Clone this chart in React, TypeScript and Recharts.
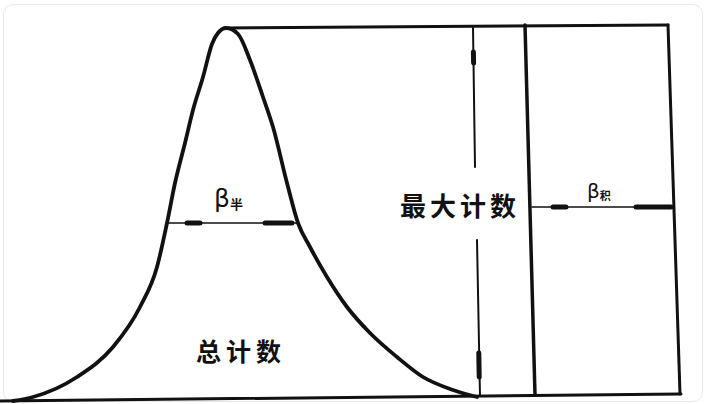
import { ComposedChart, Line, XAxis, YAxis, ReferenceDot } from 'recharts';

// diffraction peak profile (x = position, y = counts)
const PEAK_X = [13, 33, 77, 113, 140, 157, 167, 175, 185, 193, 203, 212, 218, 226, 238, 250, 263, 273, 287, 298, 310, 327, 347, 370, 397, 423, 453, 477];
const PEAK_Y = [-1, 3, 23, 53, 93, 133, 177, 217, 257, 290, 323, 356, 367, 372, 366, 340, 303, 273, 217, 177, 153, 123, 93, 67, 43, 23, 10, 3];

// construction lines: [x1, y1, x2, y2]
const BASELINE = [0, -1, 681, 6];
const TOP_LINE = [225, 372, 668, 375];
const MAX_UPPER = [473, 373, 475, 233];
const MAX_LOWER = [477, 160, 480, 4];
const MAX_HEAD_TOP = [473.4, 348, 473.6, 337];
const MAX_HEAD_BOT = [478.8, 47, 479.2, 23];
const RECT_LEFT = [525, 375, 535, 5];
const RECT_RIGHT = [668, 375, 680, 6];
const HALF_LINE = [167, 177, 297, 177];
const HALF_HEADS = [[187, 177, 200, 177], [265, 177, 292, 177]];
const INTEG_LINE = [532, 193, 673, 193];
const INTEG_HEADS = [[553, 193, 566, 193], [636, 193, 671, 193]];

const LABEL_MAX = { text: '最大计数', x: 460, y: 196 };
const LABEL_TOTAL = { text: '总计数', x: 241, y: 50 };
const LABEL_HALF = { text: 'β', sub: '半', x: 214, y: 193 };
const LABEL_INTEG = { text: 'β', sub: '积', x: 587, y: 202 };

const peak = PEAK_X.map((x, i) => ({ x, y: PEAK_Y[i] }));
const seg = (s: number[]) => [{ x: s[0], y: s[1] }, { x: s[2], y: s[3] }];

const INK = '#111';
const CJK = '"Noto Sans CJK SC","Noto Sans",sans-serif';

const cjkLabel = (text: string, size: number, spacing: number) => (p: any) => {
  const vb = p.viewBox || {};
  return <text x={vb.x} y={vb.y} textAnchor="middle" dominantBaseline="central" fontFamily={CJK} fontWeight={700}
    fontSize={size} letterSpacing={spacing} fill={INK}>{text}</text>;
};
const betaLabel = (main: string, sub: string, size: number, subSize: number) => (p: any) => {
  const vb = p.viewBox || {};
  return <text x={vb.x} y={vb.y} textAnchor="start" fontFamily='"DejaVu Sans",sans-serif' fontSize={size} fill={INK}>
    {main}<tspan fontFamily={CJK} fontWeight={700} fontSize={subSize} dy={2}>{sub}</tspan>
  </text>;
};

export default function App() {
  const lines: [number[], number][] = [
    [BASELINE, 3], [TOP_LINE, 3], [MAX_UPPER, 2], [MAX_LOWER, 2], [MAX_HEAD_TOP, 5], [MAX_HEAD_BOT, 5],
    [RECT_LEFT, 3.5], [RECT_RIGHT, 3], [HALF_LINE, 1.6], [HALF_HEADS[0], 5], [HALF_HEADS[1], 5],
    [INTEG_LINE, 1.6], [INTEG_HEADS[0], 5], [INTEG_HEADS[1], 5],
  ];
  return (
    <div style={{ position: 'relative', width: 706, height: 404, background: '#fff', fontFamily: CJK }}>
      <style>{'body{margin:0}'}</style>
      <div style={{ position: 'absolute', left: 3, top: 4, width: 698, height: 396, border: '1px solid #e8e8e8', borderRadius: 10 }} />
      <div style={{ position: 'absolute', left: 0, top: 0 }}>
        <ComposedChart width={706} height={404} margin={{ top: 0, right: 0, bottom: 0, left: 0 }}>
          <XAxis type="number" dataKey="x" domain={[0, 706]} hide allowDataOverflow />
          <YAxis type="number" dataKey="y" domain={[-4, 400]} hide allowDataOverflow />
          {lines.map(([s, w], i) => (
            <Line key={i} data={seg(s)} dataKey="y" type="linear" stroke={INK} strokeWidth={w} dot={false}
              activeDot={false} isAnimationActive={false} strokeLinecap="round" />
          ))}
          <Line data={peak} dataKey="y" type="monotone" stroke={INK} strokeWidth={3.8} dot={false}
            activeDot={false} isAnimationActive={false} strokeLinecap="round" />
          <ReferenceDot x={LABEL_MAX.x} y={LABEL_MAX.y} r={0} fill="none" stroke="none" label={cjkLabel(LABEL_MAX.text, 26, 4)} />
          <ReferenceDot x={LABEL_TOTAL.x} y={LABEL_TOTAL.y} r={0} fill="none" stroke="none" label={cjkLabel(LABEL_TOTAL.text, 25, 5)} />
          <ReferenceDot x={LABEL_HALF.x} y={LABEL_HALF.y} r={0} fill="none" stroke="none" label={betaLabel(LABEL_HALF.text, LABEL_HALF.sub, 25, 13)} />
          <ReferenceDot x={LABEL_INTEG.x} y={LABEL_INTEG.y} r={0} fill="none" stroke="none" label={betaLabel(LABEL_INTEG.text, LABEL_INTEG.sub, 20, 11)} />
        </ComposedChart>
      </div>
    </div>
  );
}
